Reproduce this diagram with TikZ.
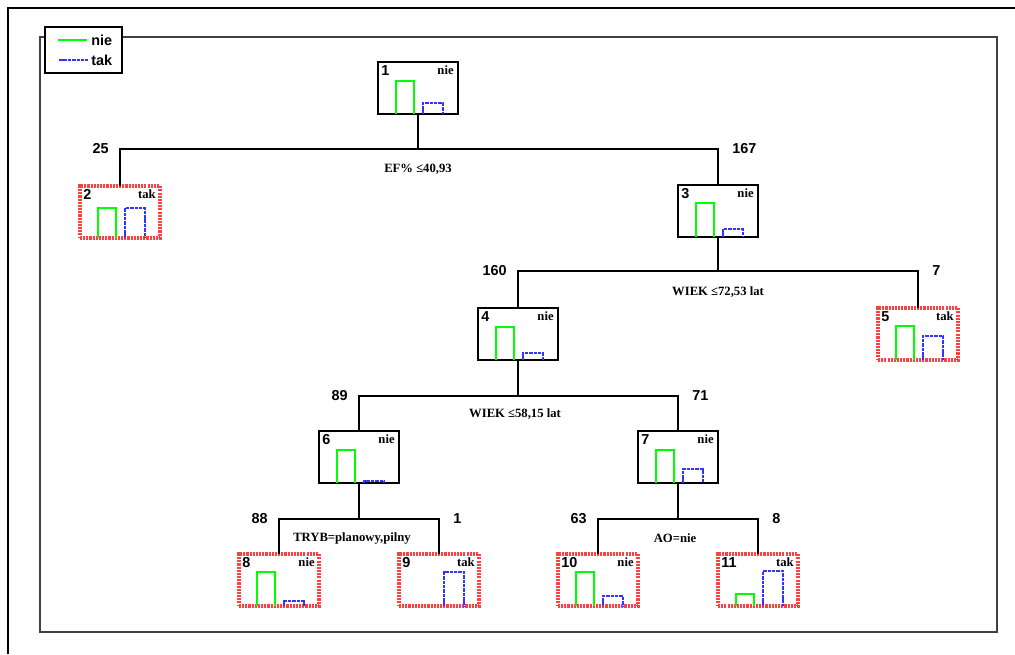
\documentclass[tikz,border=0pt]{standalone}
\usepackage{fontspec}
\setmainfont{Liberation Serif}
\newfontfamily\arialfont{Liberation Sans}
\usetikzlibrary{calc}

% histogram bars inside a node: node, height (px)
\newcommand{\gbar}[2]{\draw[gline] ($(#1.south west)+(18,0)$) -- ++(0,-#2) -- ++(18,0) -- ++(0,#2);}
\newcommand{\bbar}[2]{\draw[bline] ($(#1.south west)+(45,0)$) -- ++(0,-#2) -- ++(20,0) -- ++(0,#2);}

\begin{document}
\begin{tikzpicture}[x=0.02cm,y=-0.02cm,line join=miter,
  box/.style={draw=black,line width=1.1pt,minimum width=1.6cm,minimum height=1.04cm,inner sep=0pt,outer sep=0pt},
  leaf/.style={box,draw=red!75,dash pattern=on 1.2pt off 0.6pt,line width=1.8pt},
  gline/.style={draw=green,solid,line width=1.1pt},
  bline/.style={draw=blue!80,line width=1.2pt,dash pattern=on 2pt off 0.5pt},
  edge/.style={line width=1.1pt},
  num/.style={font=\arialfont\bfseries\fontsize{8.2}{9}\selectfont,inner sep=0pt},
  tag/.style={font=\bfseries\fontsize{7.2}{8}\selectfont,inner sep=0pt},
  cond/.style={font=\bfseries\fontsize{7.2}{8}\selectfont,inner sep=0pt}]
\useasboundingbox (0,0) rectangle (1015,654);

% frames
\draw[line width=1.2pt] (8,654) -- (8,8) -- (1015,8);
\draw[line width=0.9pt,black!75] (45,37) -- (40,37) -- (40,632) -- (997,632) -- (997,37) -- (122,37);

% legend
\node[draw,line width=1pt,minimum width=1.54cm,minimum height=0.92cm,inner sep=0pt] (lgd) at (83.5,50) {};
\coordinate (lg1) at (58,40);
\coordinate (lg2) at (59,60);
\draw[gline] (lg1) -- ++(29,0);
\draw[bline] (lg2) -- ++(29,0);
\node[num,anchor=west] (lgnie) at (91,40) {nie};
\node[num,anchor=west] (lgtak) at (91,60) {tak};

% tree nodes
\node[box]  (n1)  at (418,88) {};
\node[leaf] (n2)  at (120,212) {};
\node[box]  (n3)  at (718,211) {};
\node[box]  (n4)  at (518,334) {};
\node[leaf] (n5)  at (918,334) {};
\node[box]  (n6)  at (359,457) {};
\node[box]  (n7)  at (678,457) {};
\node[leaf] (n8)  at (279,580) {};
\node[leaf] (n9)  at (439,580) {};
\node[leaf] (n10) at (598,580) {};
\node[leaf] (n11) at (758,580) {};

% ids and classes
\foreach \n/\c in {1/nie,2/tak,3/nie,4/nie,5/tak,6/nie,7/nie,8/nie,9/tak,10/nie,11/tak}{
  \node[num,anchor=north west] (n\n id) at ($(n\n.north west)+(3,3)$) {\n};
  \node[tag,anchor=north east] (n\n tag) at ($(n\n.north east)+(-4,3)$) {\c};
}

% bars
\gbar{n1}{33}  \bbar{n1}{11}
\gbar{n2}{30}  \bbar{n2}{30}
\gbar{n3}{34}  \bbar{n3}{8}
\gbar{n4}{33}  \bbar{n4}{7}
\gbar{n5}{34}  \bbar{n5}{24}
\gbar{n6}{33}  \bbar{n6}{2}
\gbar{n7}{33}  \bbar{n7}{14}
\gbar{n8}{34}  \bbar{n8}{5}
               \bbar{n9}{34}
\gbar{n10}{34} \bbar{n10}{10}
\gbar{n11}{12} \bbar{n11}{35}

% splits
\coordinate (s1) at (418,149);
\coordinate (s2) at (718,271);
\coordinate (s3) at (518,396);
\coordinate (s4) at (359,519);
\coordinate (s5) at (678,519);

\draw[edge] (n1.south) -- (s1);
\draw[edge] (n2.north) |- (s1) -| (n3.north);
\draw[edge] (n3.south) -- (s2);
\draw[edge] (n4.north) |- (s2) -| (n5.north);
\draw[edge] (n4.south) -- (s3);
\draw[edge] (n6.north) |- (s3) -| (n7.north);
\draw[edge] (n6.south) -- (s4);
\draw[edge] (n8.north) |- (s4) -| (n9.north);
\draw[edge] (n7.south) -- (s5);
\draw[edge] (n10.north) |- (s5) -| (n11.north);

% counts
\node[num,anchor=east] (c2)  at ($(s1 -| n2)+(-11,0)$) {25};
\node[num,anchor=west] (c3)  at ($(s1 -| n3)+(14,0)$) {167};
\node[num,anchor=east] (c4)  at ($(s2 -| n4)+(-11,0)$) {160};
\node[num,anchor=west] (c5)  at ($(s2 -| n5)+(14,0)$) {7};
\node[num,anchor=east] (c6)  at ($(s3 -| n6)+(-11,0)$) {89};
\node[num,anchor=west] (c7)  at ($(s3 -| n7)+(14,0)$) {71};
\node[num,anchor=east] (c8)  at ($(s4 -| n8)+(-11,0)$) {88};
\node[num,anchor=west] (c9)  at ($(s4 -| n9)+(14,0)$) {1};
\node[num,anchor=east] (c10) at ($(s5 -| n10)+(-11,0)$) {63};
\node[num,anchor=west] (c11) at ($(s5 -| n11)+(14,0)$) {8};

% conditions
\node[cond] (d1) at ($(s1)+(0,20)$) {EF\% ≤40,93};
\node[cond] (d2) at ($(s2)+(0,21)$) {WIEK ≤72,53 lat};
\node[cond] (d3) at ($(s3)+(-3,18)$) {WIEK ≤58,15 lat};
\node[cond] (d4) at ($(s4)+(-7,19)$) {TRYB=planowy,pilny};
\node[cond] (d5) at ($(s5)+(-3,19)$) {AO=nie};
\end{tikzpicture}
\end{document}
